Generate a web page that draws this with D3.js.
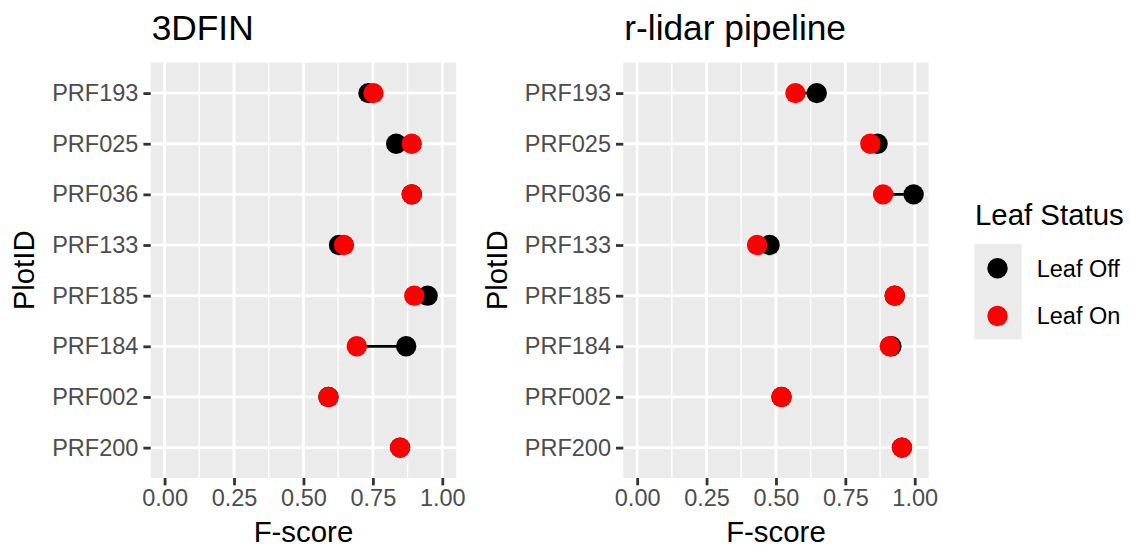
<!DOCTYPE html>
<html><head><meta charset="utf-8">
<script src="https://cdn.jsdelivr.net/npm/d3@7"></script>
<style>body{margin:0;background:#fff}svg{display:block}text{font-family:"Liberation Sans",Arial,sans-serif}</style>
</head><body><svg id="c" width="1130" height="546"></svg>
<script>
const plots = ["PRF193","PRF025","PRF036","PRF133","PRF185","PRF184","PRF002","PRF200"];
const panels = ["3DFIN","r-lidar pipeline"];
const fin_off = [0.734,0.834,0.890,0.628,0.947,0.870,0.590,0.848];
const fin_on  = [0.752,0.890,0.890,0.646,0.899,0.692,0.590,0.848];
const rl_off  = [0.647,0.866,0.996,0.477,0.928,0.916,0.520,0.954];
const rl_on   = [0.570,0.840,0.886,0.432,0.928,0.910,0.520,0.954];
const xTicks = [0,0.25,0.5,0.75,1];
const xMinor = [0.125,0.375,0.625,0.875];
const statuses = ["Leaf Off","Leaf On"];
const colors = ["#000000","#FF0000"];

const svg = d3.select("#c");
const pTop = 62.7, pBottom = 478;
const panelX = [[150.7,456.2],[623.3,928.6]];
const data = [[fin_off,fin_on],[rl_off,rl_on]];
const color = d3.scaleOrdinal().domain(statuses).range(colors);

panels.forEach((name,pi)=>{
  const [x0,x1] = panelX[pi];
  const x = d3.scaleLinear().domain([-0.05,1.05]).range([x0,x1]);
  const y = d3.scalePoint().domain(plots).range([pTop,pBottom]).padding(0.6);
  const g = svg.append("g");
  g.append("rect").attr("x",x0).attr("y",pTop).attr("width",x1-x0).attr("height",pBottom-pTop).attr("fill","#EBEBEB");
  g.selectAll(".mn").data(xMinor).join("line").attr("x1",d=>x(d)).attr("x2",d=>x(d)).attr("y1",pTop).attr("y2",pBottom).attr("stroke","#fff").attr("stroke-width",1.4);
  g.selectAll(".mj").data(xTicks).join("line").attr("x1",d=>x(d)).attr("x2",d=>x(d)).attr("y1",pTop).attr("y2",pBottom).attr("stroke","#fff").attr("stroke-width",2.8);
  g.selectAll(".hy").data(plots).join("line").attr("x1",x0).attr("x2",x1).attr("y1",d=>y(d)).attr("y2",d=>y(d)).attr("stroke","#fff").attr("stroke-width",2.8);

  const xa = g.append("g").attr("transform",`translate(0,${pBottom})`).call(d3.axisBottom(x).tickValues(xTicks).tickFormat(d3.format(".2f")).tickSize(7.3).tickPadding(4));
  const ya = g.append("g").attr("transform",`translate(${x0},0)`).call(d3.axisLeft(y).tickSize(7.3).tickPadding(5));
  [xa,ya].forEach(a=>{
    a.select(".domain").remove();
    a.selectAll(".tick line").attr("stroke","#333333").attr("stroke-width",2.8);
    a.selectAll(".tick text").attr("fill","#4D4D4D").style("font-size","23.5px");
  });

  const [off,on] = data[pi];
  g.selectAll(".seg").data(plots).join("line")
    .attr("x1",(d,i)=>x(off[i])).attr("x2",(d,i)=>x(on[i]))
    .attr("y1",d=>y(d)).attr("y2",d=>y(d)).attr("stroke","#000").attr("stroke-width",2.8);
  [off,on].forEach((arr,si)=>{
    g.selectAll(".pt"+si).data(plots).join("circle")
      .attr("cx",(d,i)=>x(arr[i])).attr("cy",d=>y(d)).attr("r",10.2)
      .attr("fill",color(statuses[si]));
  });

  g.append("text").attr("x",x0+1).attr("y",40).text(name).style("font-size","35.3px").attr("fill","#000");
  g.append("text").attr("x",(x0+x1)/2).attr("y",541.5).attr("text-anchor","middle").text("F-score").style("font-size","29.4px").attr("fill","#000");
  g.append("text").attr("transform",`translate(${x0-116.5},${(pTop+pBottom)/2}) rotate(-90)`).attr("text-anchor","middle").text("PlotID").style("font-size","29.4px").attr("fill","#000");
});

const lg = svg.append("g");
lg.append("text").attr("x",975).attr("y",225).text("Leaf Status").style("font-size","29.4px").attr("fill","#000");
lg.append("rect").attr("x",974.3).attr("y",244).attr("width",47.4).attr("height",95.3).attr("fill","#EBEBEB");
statuses.forEach((s,i)=>{
  const cy = 268.3 + i*47.7;
  lg.append("circle").attr("cx",997.5).attr("cy",cy).attr("r",10.2).attr("fill",color(s));
  lg.append("text").attr("x",1036.7).attr("y",cy).attr("dy","0.36em").text(s).style("font-size","23.5px").attr("fill","#000");
});
</script></body></html>
